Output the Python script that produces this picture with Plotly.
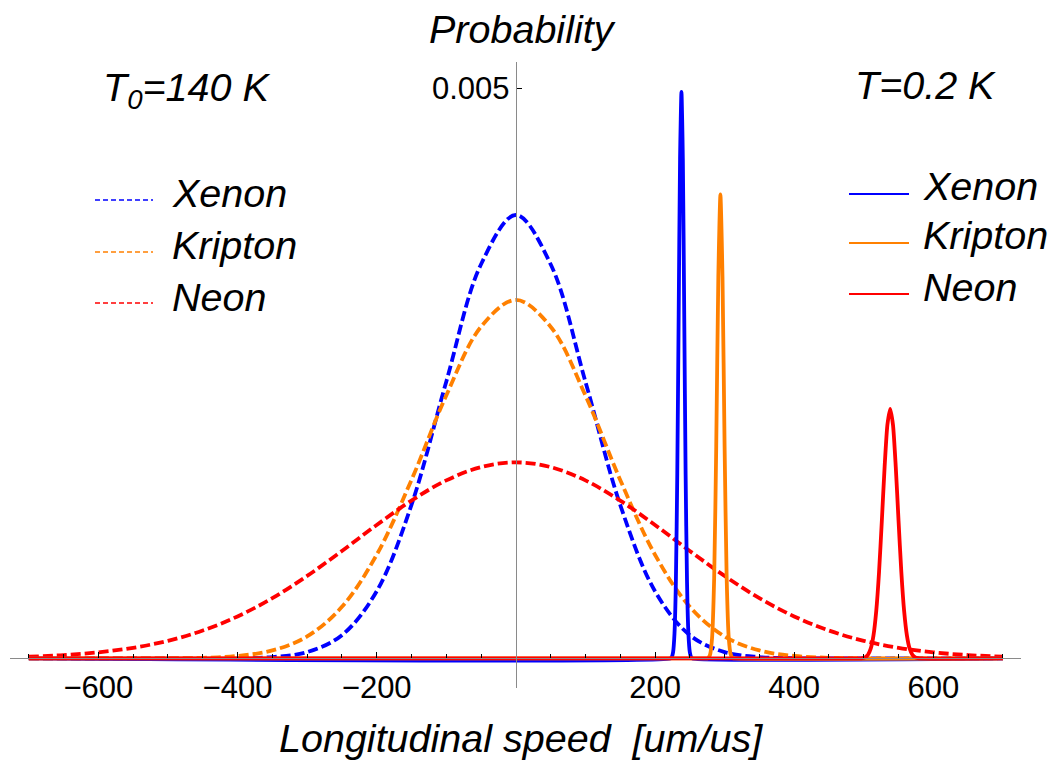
import plotly.graph_objects as go

# ---------------- data ----------------
SPEED = [-700, -650, -600, -550, -500, -450, -400, -350, -300, -250, -200, -150, -100, -50, 0,
         50, 100, 150, 200, 250, 300, 350, 400, 450, 500, 550, 600, 650, 700]

XE_140K = [0, 0, 0, 0, 0, 0.0000003, 0.0000021, 0.0000121, 0.0000559, 0.0002045, 0.000590, 0.001347,
           0.002428, 0.003458, 0.00389, 0.003458, 0.002428, 0.001347, 0.000590, 0.0002045, 0.0000559,
           0.0000121, 0.0000021, 0.0000003, 0, 0, 0, 0, 0]
KR_140K = [0, 0, 0, 0.0000003, 0.0000014, 0.0000059, 0.0000220, 0.0000705, 0.000193, 0.000453, 0.000910,
           0.001566, 0.002307, 0.002910, 0.003145, 0.002910, 0.002307, 0.001566, 0.000910, 0.000453,
           0.000193, 0.0000705, 0.0000220, 0.0000059, 0.0000014, 0.0000003, 0, 0, 0]
NE_140K = [0.0000154, 0.0000296, 0.0000539, 0.0000938, 0.000155, 0.000245, 0.000369, 0.000529, 0.000724,
           0.000943, 0.001171, 0.001385, 0.001562, 0.001679, 0.00172, 0.001679, 0.001562, 0.001385,
           0.001171, 0.000943, 0.000724, 0.000529, 0.000369, 0.000245, 0.000155, 0.0000938, 0.0000539,
           0.0000296, 0.0000154]

XE_02K_X = [-700, 222, 224, 226, 228, 230, 232, 234, 236, 238, 240, 242, 244, 246, 248, 250, 252, 254, 700]
XE_02K_Y = [0, 0, 0.0000108, 0.0000552, 0.000218, 0.000672, 0.001614, 0.003014, 0.004386, 0.00497,
            0.004386, 0.003014, 0.001614, 0.000672, 0.000218, 0.0000552, 0.0000108, 0, 0]

KR_02K_X = [-700, 273, 276, 279, 282, 285, 288, 291, 294, 297, 300, 303, 306, 309, 312, 315, 700]
KR_02K_Y = [0, 0, 0.0000036, 0.0000308, 0.000179, 0.000702, 0.001863, 0.003348, 0.00407,
            0.003348, 0.001863, 0.000702, 0.000179, 0.0000308, 0.0000036, 0, 0]

NE_02K_X = [-700, 494, 498, 502, 506, 510, 514, 518, 522, 526, 530, 534, 538, 542, 546, 550, 554, 558,
            562, 566, 570, 574, 578, 582, 700]
NE_02K_Y = [0, 0, 0.0000029, 0.0000103, 0.0000318, 0.0000858, 0.000203, 0.000419, 0.000760, 0.001208,
            0.001681, 0.00205, 0.00219, 0.00205, 0.001681, 0.001208, 0.000760, 0.000419, 0.000203,
            0.0000858, 0.0000318, 0.0000103, 0.0000029, 0, 0]

NAMES = ["Xenon", "Kripton", "Neon"]
COLORS = ["#0000ff", "#ff8000", "#ff0000"]

X_TICKS = [-600, -400, -200, 200, 400, 600]
X_TICKTEXT = ["\u2212600", "\u2212400", "\u2212200", "200", "400", "600"]
X_MINOR = [-700, -650, -550, -500, -450, -350, -300, -250, -150, -100, -50,
           50, 100, 150, 250, 300, 350, 450, 500, 550, 650, 700]
Y_TICKS = [0.005]
Y_TICKTEXT = ["0.005"]

X_RANGE = [-727, 726]
Y_RANGE = [-0.000259, 0.005232]

# ---------------- figure ----------------
W, H = 1048, 761
ML, MR, MT, MB = 10, 27, 62, 73
PW, PH = W - ML - MR, H - MT - MB
FONT = "Liberation Sans, Arial, Helvetica, sans-serif"


def px(xp):
    return (xp - ML) / PW


def py(yp):
    return (H - MB - yp) / PH


fig = go.Figure()

DASH = "10px,4px"
for name, col, ys in zip(NAMES, COLORS, [XE_140K, KR_140K, NE_140K]):
    fig.add_trace(go.Scatter(x=SPEED, y=ys, mode="lines", name=name + " (140 K)",
                             line=dict(color=col, width=3.8, dash=DASH, shape="spline"),
                             showlegend=False))
for name, col, xs, ys in zip(NAMES, COLORS, [XE_02K_X, KR_02K_X, NE_02K_X],
                             [XE_02K_Y, KR_02K_Y, NE_02K_Y]):
    fig.add_trace(go.Scatter(x=xs, y=ys, mode="lines", name=name + " (0.2 K)",
                             line=dict(color=col, width=3.8, shape="spline", smoothing=0.6),
                             showlegend=False))

# position of the zero lines in paper coordinates
y0_paper = (0 - Y_RANGE[0]) / (Y_RANGE[1] - Y_RANGE[0])
x0_paper = (0 - X_RANGE[0]) / (X_RANGE[1] - X_RANGE[0])

fig.update_layout(
    width=W, height=H,
    margin=dict(l=ML, r=MR, t=MT, b=MB),
    paper_bgcolor="white", plot_bgcolor="white",
    font=dict(family=FONT, color="black"),
    xaxis=dict(range=X_RANGE, anchor="free", position=y0_paper, showline=True,
               linecolor="#8a8a8a", linewidth=1.3, zeroline=False, showgrid=False,
               ticks="inside", ticklen=6, tickwidth=1, tickcolor="black",
               tickvals=X_TICKS, ticktext=X_TICKTEXT,
               tickfont=dict(family=FONT, size=31, color="black"),
               ticklabelstandoff=1,
               minor=dict(ticks="inside", tickvals=X_MINOR, ticklen=4, tickwidth=1,
                          tickcolor="black", showgrid=False)),
    yaxis=dict(range=Y_RANGE, anchor="free", position=x0_paper, showline=True,
               linecolor="#8a8a8a", linewidth=1.3, zeroline=False, showgrid=False,
               ticks="inside", ticklen=5, tickwidth=1, tickcolor="black",
               tickvals=Y_TICKS, ticktext=Y_TICKTEXT,
               tickfont=dict(family=FONT, size=31, color="black")),
    showlegend=False,
)

ann = []


def add_text(text, xpix, ypix, size=39.5, xanchor="center"):
    ann.append(dict(text=text, x=px(xpix), y=py(ypix), xref="paper", yref="paper",
                    showarrow=False, xanchor=xanchor, yanchor="middle",
                    font=dict(family=FONT, size=size, color="black")))


add_text("<i>Probability</i>", 522, 29)
add_text("<i>T<sub>0</sub>=140 K</i>", 186, 90)
add_text("<i>T=0.2 K</i>", 925, 85)
add_text("<i>Longitudinal speed  [um/us]</i>", 521, 738)

LEFT_Y = [193, 245, 297]
RIGHT_Y = [186, 235, 287]
for i, name in enumerate(NAMES):
    add_text("<i>%s</i>" % name, 170, LEFT_Y[i], xanchor="left")
    add_text("<i>%s</i>" % name, 921, RIGHT_Y[i], xanchor="left")

fig.update_layout(annotations=ann)

shapes = []
L_LINE_Y = [200, 252, 303]
R_LINE_Y = [194, 243, 294]
for i, col in enumerate(COLORS):
    shapes.append(dict(type="line", xref="paper", yref="paper", x0=px(95), x1=px(153),
                       y0=py(L_LINE_Y[i]), y1=py(L_LINE_Y[i]),
                       line=dict(color=col, width=1.6, dash="5px,3px")))
    shapes.append(dict(type="line", xref="paper", yref="paper", x0=px(849), x1=px(909),
                       y0=py(R_LINE_Y[i]), y1=py(R_LINE_Y[i]),
                       line=dict(color=col, width=1.8)))
fig.update_layout(shapes=shapes)

fig.write_html("out.html")
